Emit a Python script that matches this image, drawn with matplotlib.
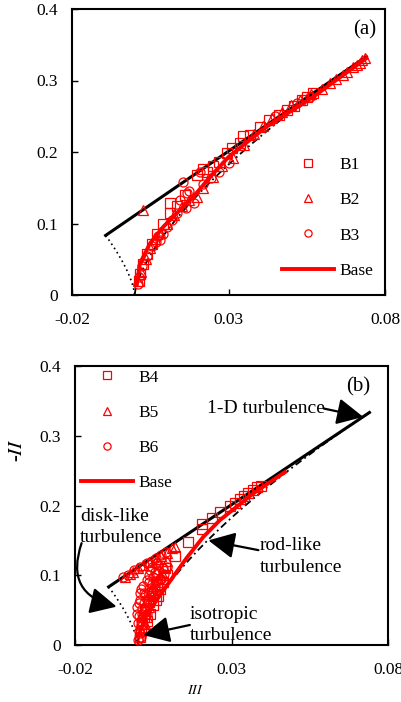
import numpy as np
import matplotlib
matplotlib.use("Agg")
import matplotlib.pyplot as plt

plt.rcParams['font.family'] = ['Liberation Serif', 'DejaVu Serif']
plt.rcParams['mathtext.fontset'] = 'stix'

# ---------------- data ----------------
x_ticks = [-0.02, 0.03, 0.08]
x_ticklabels = ["-0.02", "0.03", "0.08"]
y_ticks = [0, 0.1, 0.2, 0.3, 0.4]
y_ticklabels = ["0", "0.1", "0.2", "0.3", "0.4"]

# Panel (a)
base_a_III = [0.0007, 0.0017, 0.0049, 0.0092, 0.0134, 0.0188, 0.0241, 0.030, 0.042, 0.057, 0.074]
base_a_II = [0.014, 0.044, 0.072, 0.0955, 0.114, 0.1375, 0.165, 0.193, 0.235, 0.277, 0.331]

b1_III = [0.0015, 0.0017, 0.0028, 0.0039, 0.0055, 0.0070, 0.0091, 0.0113, 0.0113, 0.0134, 0.0160,
          0.0198, 0.0220, 0.0230, 0.0250, 0.0270, 0.0294, 0.0310, 0.0337, 0.0345, 0.0369, 0.0400,
          0.0430, 0.0460, 0.0486, 0.0510, 0.0534, 0.0550, 0.0570]
b1_II = [0.019, 0.030, 0.044, 0.058, 0.072, 0.086, 0.100, 0.114, 0.129, 0.124, 0.140,
         0.168, 0.176, 0.172, 0.180, 0.186, 0.198, 0.205, 0.212, 0.222, 0.224, 0.235,
         0.245, 0.252, 0.259, 0.265, 0.273, 0.277, 0.282]

b2_III = [0.0028, 0.0012, 0.0020, 0.0035, 0.0050, 0.0065, 0.0080, 0.0103, 0.0125, 0.0150, 0.0175,
          0.0198, 0.0220, 0.0250, 0.0280, 0.0315, 0.0350, 0.0380, 0.0410, 0.0440, 0.0470, 0.0500,
          0.0530, 0.0565, 0.0598, 0.0624, 0.0645, 0.0667, 0.0680, 0.0699, 0.0710, 0.0720, 0.0725, 0.0736]
b2_II = [0.119, 0.020, 0.032, 0.050, 0.066, 0.078, 0.088, 0.100, 0.112, 0.124, 0.133,
         0.1375, 0.150, 0.165, 0.180, 0.191, 0.210, 0.225, 0.236, 0.247, 0.256, 0.266,
         0.273, 0.281, 0.288, 0.296, 0.302, 0.308, 0.312, 0.319, 0.322, 0.325, 0.328, 0.331]

b3_III = [0.0156, 0.0166, 0.0145, 0.0175, 0.0190, 0.0165, 0.0010, 0.0015, 0.0025, 0.0040, 0.0055,
          0.0068, 0.0081, 0.0075, 0.0090, 0.0105, 0.0120, 0.0135, 0.0209, 0.0220, 0.0245, 0.0270,
          0.0300, 0.0450, 0.0520, 0.0560]
b3_II = [0.158, 0.142, 0.133, 0.145, 0.128, 0.122, 0.016, 0.025, 0.040, 0.055, 0.068,
         0.074, 0.077, 0.082, 0.085, 0.095, 0.105, 0.115, 0.172, 0.155, 0.163, 0.172,
         0.185, 0.250, 0.268, 0.277]

# Panel (b)
base_b_III = [0.0002, 0.0025, 0.0061, 0.0104, 0.0157, 0.0210, 0.0263, 0.0370, 0.0471]
base_b_II = [0.012, 0.040, 0.0645, 0.092, 0.125, 0.155, 0.179, 0.2175, 0.248]

b4_III = [0.0162, 0.0205, 0.0205, 0.0237, 0.0263, 0.0295, 0.0310, 0.0327, 0.0340, 0.0354, 0.0370,
          0.0380, 0.0395, 0.0120, 0.0088, 0.0061, 0.0045, 0.0035, 0.0025, 0.0020, 0.0015, 0.0010,
          0.0008, 0.0050, 0.0040, 0.0030, 0.0065, 0.0070, 0.0080, 0.0095, 0.0060]
b4_II = [0.148, 0.167, 0.173, 0.1825, 0.191, 0.200, 0.204, 0.210, 0.214, 0.218, 0.222,
         0.227, 0.228, 0.128, 0.110, 0.088, 0.075, 0.062, 0.050, 0.040, 0.030, 0.020,
         0.012, 0.058, 0.045, 0.035, 0.070, 0.080, 0.090, 0.100, 0.065]

b5_III = [-0.0040, -0.0025, -0.0014, 0.0000, 0.0018, 0.0035, 0.0061, 0.0075, 0.0093, 0.0109, 0.0120,
          0.0010, 0.0015, 0.0020, 0.0030, 0.0040, 0.0055, 0.0070, 0.0085, 0.0095, 0.0035, 0.0025,
          0.0060, 0.0080, 0.0050, 0.0065, 0.0045, 0.0030]
b5_II = [0.098, 0.102, 0.105, 0.110, 0.1147, 0.119, 0.124, 0.128, 0.1315, 0.1386, 0.140,
         0.020, 0.035, 0.050, 0.065, 0.078, 0.090, 0.100, 0.112, 0.120, 0.055, 0.030,
         0.105, 0.100, 0.085, 0.095, 0.070, 0.040]

b6_III = [-0.0046, -0.0030, -0.0010, 0.0008, 0.0030, 0.0045, 0.0060, 0.0075, 0.0090,
          0.0002, 0.0008, 0.0002, 0.0005, -0.0003, 0.0008, 0.0008, 0.0018, 0.0029, 0.0040, 0.0060,
          0.0015, 0.0020, 0.0035, 0.0050, 0.0065, 0.0015, 0.0010, 0.0025, 0.0045, 0.0030, 0.0040,
          0.0050, 0.0055, 0.0060, 0.0075, 0.0085, 0.0022, 0.0012,
          0.0005, 0.0010, 0.0025, 0.0030, 0.0045, 0.0065, 0.0070, 0.0035, 0.0055, 0.0065, 0.0080,
          0.0095, 0.0035, 0.0045, -0.0002, 0.0003, 0.0015, 0.0020, 0.0005, 0.0010]
b6_II = [0.098, 0.101, 0.107, 0.112, 0.117, 0.121, 0.125, 0.129, 0.133,
         0.007, 0.017, 0.031, 0.042, 0.055, 0.065, 0.074, 0.084, 0.093, 0.1075, 0.117,
         0.052, 0.060, 0.080, 0.098, 0.107, 0.038, 0.028, 0.072, 0.088, 0.045, 0.060,
         0.070, 0.080, 0.090, 0.095, 0.102, 0.022, 0.012,
         0.010, 0.035, 0.055, 0.065, 0.075, 0.085, 0.095, 0.090, 0.105, 0.115, 0.110,
         0.112, 0.100, 0.112, 0.045, 0.020, 0.045, 0.075, 0.060, 0.080]

# Lumley triangle boundaries (theoretical limits)
III_disk = -1.0 / 108
III_1d = 2.0 / 27
t_two_c = np.linspace(III_disk, III_1d, 50)
two_c = 1.0 / 9 + 3 * t_two_c
t_rod = np.linspace(0, III_1d, 200)
rod = 3 * (t_rod / 2) ** (2.0 / 3)
t_disk = np.linspace(III_disk, 0, 100)
disk = 3 * (np.abs(t_disk) / 2) ** (2.0 / 3)

RED = '#ff0000'
W, H = 401, 702
fig = plt.figure(figsize=(W / 100, H / 100), dpi=100)
ax_a = fig.add_axes([72 / W, 1 - 295 / H, 313 / W, 286 / H])
ax_b = fig.add_axes([75 / W, 1 - 645 / H, 313 / W, 279 / H])


def style(ax):
    ax.set_xlim(-0.02, 0.08)
    ax.set_ylim(0, 0.4)
    ax.set_xticks(x_ticks)
    ax.set_xticklabels(x_ticklabels)
    ax.set_yticks(y_ticks)
    ax.set_yticklabels(y_ticklabels)
    ax.tick_params(direction='in', length=4, width=1, labelsize=12.5)
    ax.tick_params(axis='x', pad=12)
    ax.tick_params(axis='y', pad=10)
    for s in ax.spines.values():
        s.set_linewidth(1.5)


def boundaries(ax):
    ax.plot(t_two_c, two_c, color='black', lw=2.2, zorder=2)
    ax.plot(t_rod, rod, color='black', lw=1.3, ls=(0, (4, 2, 1, 2)), zorder=2)
    ax.plot(t_disk, disk, color='black', lw=1.2, ls=(0, (1, 2)), zorder=2, clip_on=False)


mk = dict(mfc='none', mec=RED, mew=0.9, ls='none', ms=6.5, zorder=3)
leg_kw = dict(loc='upper left', frameon=False, fontsize=12.5, handlelength=3.0,
              handletextpad=0.3, labelspacing=1.1, borderpad=0, borderaxespad=0,
              markerscale=0.8)

# ---- panel (a)
style(ax_a)
boundaries(ax_a)
ax_a.plot(b1_III, b1_II, marker='s', label='B1', **mk)
ax_a.plot(b2_III, b2_II, marker='^', label='B2', **mk)
ax_a.plot(b3_III, b3_II, marker='o', label='B3', **mk)
ax_a.plot(base_a_III, base_a_II, color=RED, lw=2.8, label='Base', zorder=4)
ax_a.text(0.0736, 0.371, '(a)', fontsize=15, ha='center', va='center')
ax_a.legend(bbox_to_anchor=(0.672, 0.483), **leg_kw)

# ---- panel (b)
style(ax_b)
boundaries(ax_b)
ax_b.plot(b4_III, b4_II, marker='s', label='B4', **mk)
ax_b.plot(b5_III, b5_II, marker='^', label='B5', **mk)
ax_b.plot(b6_III, b6_II, marker='o', label='B6', **mk)
ax_b.plot(base_b_III, base_b_II, color=RED, lw=2.8, label='Base', zorder=4)
ax_b.text(0.0704, 0.370, '(b)', fontsize=15, ha='center', va='center')
ax_b.legend(bbox_to_anchor=(0.02, 0.988), **leg_kw)

arrow_kw = dict(arrowstyle='-|>,head_length=0.9,head_width=0.45', color='black', lw=1.6,
                mutation_scale=18, shrinkA=0, shrinkB=0)
fs_ann = 14
ls_ann = 1.35
ax_b.text(0.0221, 0.339, '1-D turbulence', fontsize=fs_ann, ha='left', va='center')
ax_b.annotate('', xy=(0.0721, 0.327), xytext=(0.0595, 0.339), arrowprops=arrow_kw)

ax_b.text(0.0391, 0.127, 'rod-like\nturbulence', fontsize=fs_ann, ha='left', va='center',
          linespacing=ls_ann)
ax_b.annotate('', xy=(0.0226, 0.150), xytext=(0.0386, 0.136), arrowprops=arrow_kw)

ax_b.text(0.0167, 0.0287, 'isotropic\nturbulence', fontsize=fs_ann, ha='left', va='center',
          linespacing=ls_ann)
ax_b.annotate('', xy=(0.0018, 0.0143), xytext=(0.0167, 0.0287), arrowprops=arrow_kw)

ax_b.text(-0.0184, 0.169, 'disk-like\nturbulence', fontsize=fs_ann, ha='left', va='center',
          linespacing=ls_ann)
ax_b.annotate('', xy=(-0.0067, 0.055), xytext=(-0.0179, 0.146),
              arrowprops=dict(arrow_kw, connectionstyle='arc3,rad=0.55'))

fig.text(17 / W, 1 - 450 / H, '-$\\mathit{II}$', fontsize=15, rotation=90,
         ha='center', va='center', fontweight='bold')
fig.text(195 / W, 1 - 690 / H, '$\\mathit{III}$', fontsize=10, ha='center', va='center')

fig.savefig('out.png', dpi=100)
